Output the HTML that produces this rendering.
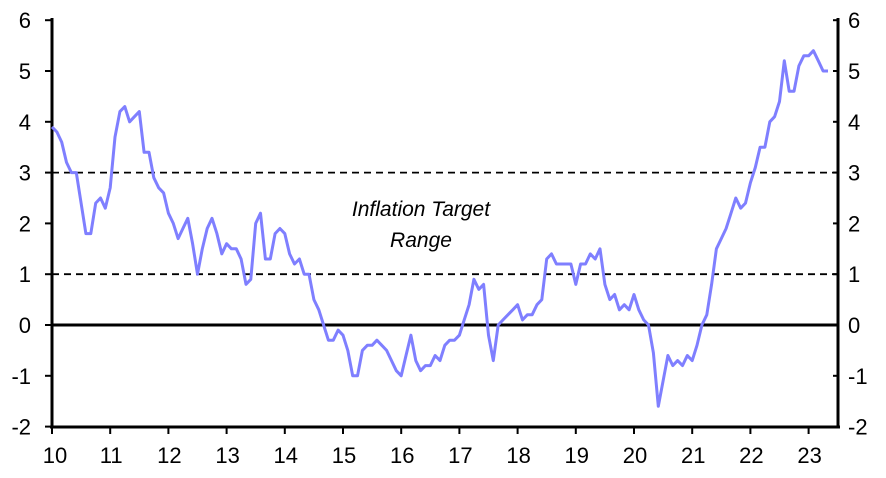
<!DOCTYPE html>
<html><head><meta charset="utf-8"><style>
body{margin:0;background:#fff}
svg text{font-family:"Liberation Sans",sans-serif;font-size:22px;fill:#000}
</style></head><body>
<svg width="886" height="473" viewBox="0 0 886 473" xmlns="http://www.w3.org/2000/svg">
<g stroke="#000" stroke-width="1.8" stroke-dasharray="7,5">
<line x1="52" y1="172.6" x2="838" y2="172.6"/>
<line x1="52" y1="274.2" x2="838" y2="274.2"/>
</g>
<line x1="52" y1="325" x2="838" y2="325" stroke="#000" stroke-width="3"/>
<g stroke="#000" stroke-width="3" fill="none">
<line x1="52" y1="18" x2="52" y2="428"/>
<line x1="838" y1="18" x2="838" y2="428"/>
<line x1="50" y1="427" x2="840" y2="427"/>
</g>
<g stroke="#000" stroke-width="2" id="tk"></g>
<polyline id="ser" fill="none" stroke="#7f7fff" stroke-width="3" stroke-linejoin="round" points=""/>
<text x="421" y="216" text-anchor="middle" font-style="italic" style="font-size:21px">Inflation Target</text>
<text x="421" y="247" text-anchor="middle" font-style="italic" style="font-size:21px">Range</text>
<g id="lbl"></g>
</svg>
<script>
var d=[3.9,3.8,3.6,3.2,3.0,3.0,2.4,1.8,1.8,2.4,2.5,2.3,2.7,3.7,4.2,4.3,4.0,4.1,4.2,3.4,3.4,2.9,2.7,2.6,2.2,2.0,1.7,1.9,2.1,1.6,1.0,1.5,1.9,2.1,1.8,1.4,1.6,1.5,1.5,1.3,0.8,0.9,2.0,2.2,1.3,1.3,1.8,1.9,1.8,1.4,1.2,1.3,1.0,1.0,0.5,0.3,0.0,-0.3,-0.3,-0.1,-0.2,-0.5,-1.0,-1.0,-0.5,-0.4,-0.4,-0.3,-0.4,-0.5,-0.7,-0.9,-1.0,-0.6,-0.2,-0.7,-0.9,-0.8,-0.8,-0.6,-0.7,-0.4,-0.3,-0.3,-0.2,0.1,0.4,0.9,0.7,0.8,-0.2,-0.7,0.0,0.1,0.2,0.3,0.4,0.1,0.2,0.2,0.4,0.5,1.3,1.4,1.2,1.2,1.2,1.2,0.8,1.2,1.2,1.4,1.3,1.5,0.8,0.5,0.6,0.3,0.4,0.3,0.6,0.3,0.1,0.0,-0.55,-1.6,-1.1,-0.6,-0.8,-0.7,-0.8,-0.6,-0.7,-0.4,0.0,0.2,0.8,1.5,1.7,1.9,2.2,2.5,2.3,2.4,2.8,3.1,3.5,3.5,4.0,4.1,4.4,5.2,4.6,4.6,5.1,5.3,5.3,5.4,5.2,5.0,5.0];
var Y=function(v){return 325-v*50.8};
document.getElementById('ser').setAttribute('points',d.map(function(v,i){return (52+i*4.85).toFixed(1)+','+Y(v).toFixed(1)}).join(' '));
var ns='http://www.w3.org/2000/svg',tk=document.getElementById('tk'),lb=document.getElementById('lbl');
function L(x1,y1,x2,y2){var l=document.createElementNS(ns,'line');l.setAttribute('x1',x1);l.setAttribute('y1',y1);l.setAttribute('x2',x2);l.setAttribute('y2',y2);tk.appendChild(l);}
function T(x,y,s,a){var t=document.createElementNS(ns,'text');t.setAttribute('x',x);t.setAttribute('y',y);t.setAttribute('text-anchor',a);t.textContent=s;lb.appendChild(t);}
for(var v=-2;v<=6;v++){var y=Y(v);L(45,y,52,y);L(833,y,838,y);T(31,y+8,String(v),'end');T(848,y+8,String(v),'start');}
for(var k=0;k<=13;k++){var x=52+k*12*4.85;L(x,427,x,434);T(k==0?55:x+1,463,String(10+k),'middle');}
</script>
</body></html>
